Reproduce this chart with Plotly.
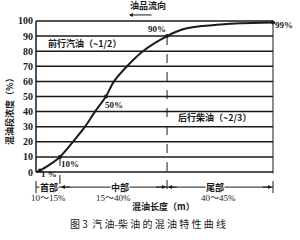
import plotly.graph_objects as go

# Mixed-oil concentration curve (x: relative mixed-oil length, y: concentration %)
conc_x = [0, 1.7, 5.9, 10.1, 15.6, 20.7, 24.9, 29.5, 32.9, 38.4, 45.1, 55.3, 62.0, 69.2, 76.4, 86.0, 100.0]
conc_y = [0, 1, 5, 10, 20, 30, 40, 50, 60, 70, 80, 90, 94.5, 96.5, 97.5, 98.5, 99]

key_x = [1.7, 10.1, 29.5, 55.3, 100.0]
key_y = [1, 10, 50, 90, 99]
key_text = ["1 %", "10%", "50%", "90%", "99%"]

y_ticks = [0, 10, 20, 30, 40, 50, 60, 70, 80, 90, 100]

seg_bounds = [0, 10.1, 55.3, 100.0]
seg_names = ["首部", "中部", "尾部"]
seg_ranges = ["10～15%", "15～40%", "40～45%"]

INK = "#1a1a1a"
SERIF = "Liberation Serif, Noto Sans CJK SC"
CJK = "Noto Sans CJK SC"

fig = go.Figure()
fig.add_trace(go.Scatter(x=conc_x, y=conc_y, mode="lines",
                         line=dict(color=INK, width=2, shape="spline", smoothing=0.8),
                         hoverinfo="skip"))
fig.add_trace(go.Scatter(x=key_x, y=key_y, mode="markers",
                         marker=dict(color=INK, size=4), hoverinfo="skip"))

shapes = []
for t in y_ticks:
    shapes.append(dict(type="line", xref="x", yref="y", x0=0, x1=100, y0=t, y1=t,
                       line=dict(color=INK, width=1.5)))
# axis frame lines
shapes.append(dict(type="line", xref="x", yref="y", x0=0, x1=0, y0=0, y1=100,
                   line=dict(color=INK, width=1.5)))
shapes.append(dict(type="line", xref="x", yref="y", x0=100, x1=100, y0=-1, y1=100,
                   line=dict(color=INK, width=1)))
# dashed verticals from key points
shapes.append(dict(type="line", xref="x", yref="y", x0=seg_bounds[1], x1=seg_bounds[1],
                   y0=key_y[1], y1=-14, line=dict(color=INK, width=1, dash="dash")))
shapes.append(dict(type="line", xref="x", yref="y", x0=seg_bounds[2], x1=seg_bounds[2],
                   y0=key_y[3], y1=-15, line=dict(color=INK, width=1, dash="dash")))
# segment line
seg_y = -10
shapes.append(dict(type="line", xref="x", yref="y", x0=0, x1=100, y0=seg_y, y1=seg_y,
                   line=dict(color=INK, width=1)))
for b in (seg_bounds[0], seg_bounds[3]):
    shapes.append(dict(type="line", xref="x", yref="y", x0=b, x1=b, y0=seg_y + 4, y1=seg_y - 4,
                       line=dict(color=INK, width=1)))

ann = []
# point labels
label_pos = [(5.5, -1.5), (14.3, 5.3), (33.0, 44.4), (51.0, 94.7), (104.6, 97.4)]
for (lx, ly), txt in zip(label_pos, key_text):
    ann.append(dict(x=lx, y=ly, xref="x", yref="y", text=txt, showarrow=False,
                    font=dict(family=SERIF, size=9, color=INK, weight="bold")))
# segment labels
name_x = [5.6, 35.4, 75.5]
range_x = [5.3, 32.5, 77.2]
for nx, rx, nm, rg in zip(name_x, range_x, seg_names, seg_ranges):
    ann.append(dict(x=nx, y=seg_y, xref="x", yref="y", text=nm, showarrow=False,
                    bgcolor="white", borderpad=0,
                    font=dict(family=CJK, size=9, color=INK, weight="bold")))
    ann.append(dict(x=rx, y=-17.3, xref="x", yref="y", text=rg, showarrow=False,
                    font=dict(family=SERIF, size=9, color=INK)))
# segment arrowheads
arrows = [(seg_bounds[1] + 0.4, 15), (seg_bounds[2] - 0.4, 50), (seg_bounds[2] + 0.4, 60), (seg_bounds[3] - 0.4, 95)]
for tip, tail in arrows:
    ann.append(dict(x=tip, y=seg_y, ax=tail, ay=seg_y, xref="x", yref="y", axref="x", ayref="y",
                    text="", showarrow=True, arrowhead=2, arrowsize=0.8, arrowwidth=1,
                    arrowcolor=INK))
# flow direction
ann.append(dict(x=47.3, y=110, xref="x", yref="y", text="油品流向", showarrow=False,
                font=dict(family=CJK, size=9, color=INK, weight="bold")))
ann.append(dict(x=39.2, y=104, ax=49.4, ay=104, xref="x", yref="y", axref="x", ayref="y",
                text="", showarrow=True, arrowhead=2, arrowsize=0.8, arrowwidth=1, arrowcolor=INK))
# region labels
ann.append(dict(x=20.3, y=85.4, xref="x", yref="y", text="前行汽油（~1/2）", showarrow=False,
                font=dict(family=CJK, size=9, color=INK, weight="bold")))
ann.append(dict(x=75.5, y=36.4, xref="x", yref="y", text="后行柴油（~2/3）", showarrow=False,
                font=dict(family=CJK, size=9, color=INK, weight="bold")))
# axis titles and caption
ann.append(dict(x=-11.4, y=41.7, xref="x", yref="y", text="混油段浓度（%）", showarrow=False,
                textangle=-90, font=dict(family=CJK, size=9, color=INK, weight="bold")))
ann.append(dict(x=53.6, y=-22.8, xref="x", yref="y", text="混油长度（m）", showarrow=False,
                font=dict(family=CJK, size=9, color=INK, weight="bold")))
ann.append(dict(x=47.3, y=-33.8, xref="x", yref="y", text="图 3  汽 油-柴 油 的 混 油 特 性 曲 线",
                showarrow=False, font=dict(family=CJK, size=10, color=INK)))

fig.update_layout(
    width=300, height=240, margin=dict(l=0, r=0, t=0, b=0),
    paper_bgcolor="white", plot_bgcolor="white", showlegend=False,
    shapes=shapes, annotations=ann,
    xaxis=dict(range=[-15.19, 111.39], domain=[0, 1], visible=False, fixedrange=True),
    yaxis=dict(range=[-45.03, 113.9], domain=[0, 1], anchor="free", position=0.12,
               tickvals=y_ticks, ticks="", showgrid=False, zeroline=False, showline=False,
               ticklabelstandoff=3,
               tickfont=dict(family=SERIF, size=10, color=INK, weight="bold"), fixedrange=True),
)
fig.write_html("out.html")
